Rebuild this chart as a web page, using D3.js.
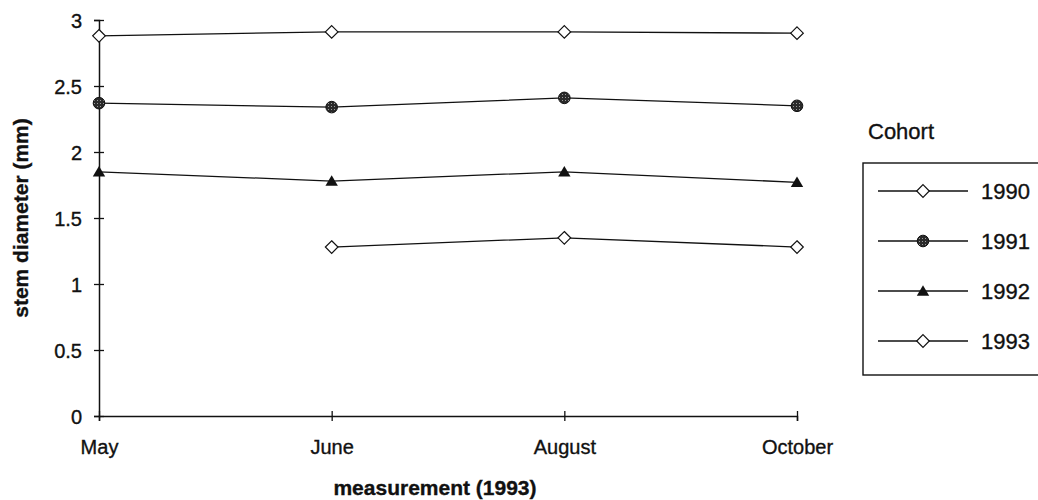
<!DOCTYPE html>
<html>
<head>
<meta charset="utf-8">
<script src="https://cdn.jsdelivr.net/npm/d3@7"></script>
<style>
  html, body { margin: 0; padding: 0; background: #fff; }
  svg { display: block; font-family: "Liberation Sans", Arial, sans-serif; }
  .lbl { fill: #111; stroke: #111; stroke-width: 0.35px; }
</style>
</head>
<body>
<svg id="chart" width="1038" height="500"></svg>
<script>
// Measurement dates (1993) and stem diameter (mm) per cohort
const months = ["May", "June", "August", "October"];
const cohorts = ["1990", "1991", "1992", "1993"];
const d1990 = [2.88, 2.91, 2.91, 2.90];
const d1991 = [2.37, 2.34, 2.41, 2.35];
const d1992 = [1.85, 1.78, 1.85, 1.77];
const d1993 = [null, 1.28, 1.35, 1.28];
const yTicks = [0, 0.5, 1, 1.5, 2, 2.5, 3];
const yTickLabels = ["0", "0.5", "1", "1.5", "2", "2.5", "3"];

const seriesValues = [d1990, d1991, d1992, d1993];
const markerKinds = ["diamond", "dotted", "triangle", "diamond"];

const svg = d3.select("#chart");

const x = d3.scalePoint().domain(months).range([99, 797]);
const y = d3.scaleLinear().domain([0, 3]).range([416, 20]);

// speckled fill for the 1991 circles
const defs = svg.append("defs");
const pat = defs.append("pattern")
  .attr("id", "speckle").attr("patternUnits", "userSpaceOnUse")
  .attr("width", 3).attr("height", 3);
pat.append("rect").attr("width", 3).attr("height", 3).attr("fill", "#2a2a2a");
pat.append("rect").attr("x", 1).attr("y", 1).attr("width", 1).attr("height", 1).attr("fill", "#9a9a9a");

// y axis
const yAxis = svg.append("g")
  .attr("transform", `translate(${x(months[0])},0)`)
  .call(d3.axisLeft(y).tickValues(yTicks)
    .tickFormat((d, i) => yTickLabels[i]).tickSizeOuter(0).tickSize(5));
yAxis.selectAll(".tick line").attr("x1", -5).attr("x2", 5).attr("stroke", "#111").attr("stroke-width", 1.3);
yAxis.select(".domain").attr("stroke", "#111").attr("stroke-width", 1.5);
yAxis.selectAll(".tick text")
  .attr("class", "lbl")
  .attr("x", -17).attr("dy", "0.36em")
  .attr("font-size", 20)
  .attr("font-family", "Liberation Sans, Arial, sans-serif");

// x axis
const xAxis = svg.append("g")
  .attr("transform", `translate(0,${y(0)})`)
  .call(d3.axisBottom(x).tickSizeOuter(0).tickSize(5));
xAxis.selectAll(".tick line").attr("y1", -5).attr("y2", 5).attr("stroke", "#111").attr("stroke-width", 1.3);
xAxis.select(".domain").attr("stroke", "#111").attr("stroke-width", 1.5);
xAxis.selectAll(".tick text")
  .attr("class", "lbl")
  .attr("y", 31).attr("dy", "0.35em")
  .attr("font-size", 20)
  .attr("font-family", "Liberation Sans, Arial, sans-serif");

// axis titles
svg.append("text").attr("class", "lbl")
  .attr("transform", `translate(21,${(y(0) + y(3)) / 2}) rotate(-90)`)
  .attr("text-anchor", "middle").attr("dy", "0.35em")
  .attr("font-size", 21).attr("font-weight", "bold")
  .text("stem diameter (mm)");
svg.append("text").attr("class", "lbl")
  .attr("x", 435).attr("y", 488).attr("text-anchor", "middle").attr("dy", "0.35em")
  .attr("font-size", 21).attr("font-weight", "bold")
  .text("measurement (1993)");

function drawMarker(g, kind, cx, cy) {
  if (kind === "diamond") {
    const s = 6.3;
    g.append("path")
      .attr("d", `M${cx},${cy - s}L${cx + s},${cy}L${cx},${cy + s}L${cx - s},${cy}Z`)
      .attr("fill", "#fff").attr("stroke", "#111").attr("stroke-width", 1.2);
  } else if (kind === "dotted") {
    g.append("circle").attr("cx", cx).attr("cy", cy).attr("r", 5.8)
      .attr("fill", "url(#speckle)").attr("stroke", "#111").attr("stroke-width", 1);
  } else {
    const w = 6.2, h = 10.5;
    g.append("path")
      .attr("d", `M${cx},${cy - h * 0.55}L${cx + w},${cy + h * 0.45}L${cx - w},${cy + h * 0.45}Z`)
      .attr("fill", "#111");
  }
}

// series lines and markers
const line = d3.line()
  .defined(d => d.v != null)
  .x(d => x(d.m)).y(d => y(d.v));

seriesValues.forEach((vals, si) => {
  const pts = months.map((m, i) => ({ m, v: vals[i] }));
  const g = svg.append("g");
  g.append("path").datum(pts).attr("d", line)
    .attr("fill", "none").attr("stroke", "#111").attr("stroke-width", 1.3);
  pts.filter(p => p.v != null).forEach(p => drawMarker(g, markerKinds[si], x(p.m), y(p.v)));
});

// legend
svg.append("text").attr("class", "lbl").attr("x", 868).attr("y", 139)
  .attr("font-size", 22).text("Cohort");
svg.append("rect").attr("x", 863).attr("y", 163).attr("width", 200).attr("height", 212)
  .attr("fill", "none").attr("stroke", "#111").attr("stroke-width", 1.4);
const legendY = d3.scalePoint().domain(cohorts).range([191, 341]);
cohorts.forEach((c, i) => {
  const ly = legendY(c);
  const g = svg.append("g");
  g.append("line").attr("x1", 878).attr("x2", 968).attr("y1", ly).attr("y2", ly)
    .attr("stroke", "#111").attr("stroke-width", 1.3);
  drawMarker(g, markerKinds[i], 923, ly);
  g.append("text").attr("class", "lbl").attr("x", 981).attr("y", ly).attr("dy", "0.36em")
    .attr("font-size", 22).text(c);
});
</script>
</body>
</html>
